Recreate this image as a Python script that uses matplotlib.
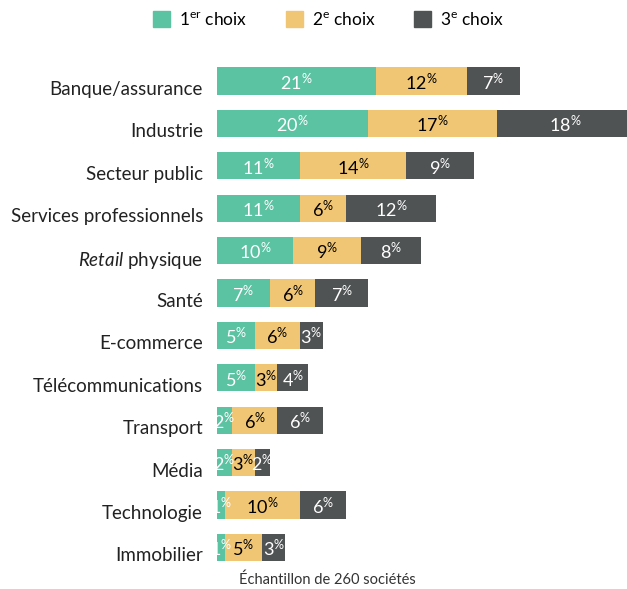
import numpy as np
import matplotlib.pyplot as plt
from matplotlib.patches import Patch
from matplotlib.transforms import ScaledTranslation

plt.rcParams['font.family'] = ['Lato', 'DejaVu Sans']
plt.rcParams['mathtext.fontset'] = 'custom'
plt.rcParams['mathtext.rm'] = 'Lato'
plt.rcParams['mathtext.it'] = 'Lato:italic'
plt.rcParams['mathtext.bf'] = 'Lato:bold'

# données
secteurs = ["Banque/assurance", "Industrie", "Secteur public", "Services professionnels",
            "$\\mathit{Retail}$ physique", "Santé", "E-commerce", "Télécommunications",
            "Transport", "Média", "Technologie", "Immobilier"]
choix1 = [21, 20, 11, 11, 10, 7, 5, 5, 2, 2, 1, 1]
choix2 = [12, 17, 14, 6, 9, 6, 6, 3, 6, 3, 10, 5]
choix3 = [7, 18, 9, 12, 8, 7, 3, 4, 6, 2, 6, 3]
series = ["1$^{\\mathrm{er}}$ choix", "2$^{\\mathrm{e}}$ choix", "3$^{\\mathrm{e}}$ choix"]

couleurs = ["#5bc2a2", "#f0c674", "#505354"]
couleurs_txt = ["white", "black", "white"]

fig = plt.figure(figsize=(6.27, 5.89), dpi=100)
ax = fig.add_axes([0.346, 0.0345, 0.654, 0.864])

y = np.arange(len(secteurs))
gauche = np.zeros(len(secteurs))
for vals, c, tc in zip([choix1, choix2, choix3], couleurs, couleurs_txt):
    vals = np.array(vals)
    ax.barh(y, vals, left=gauche, height=0.64, color=c, linewidth=0)
    for yi, l, v in zip(y, gauche, vals):
        ax.text(l + v / 2, yi + 0.03, "%d$^{\\%%}$" % v, ha='center', va='center',
                color=tc, fontsize=13)
    gauche = gauche + vals

ax.set_xlim(0, 54.2)
ax.set_ylim(len(secteurs) - 0.5, -0.5)
ax.set_yticks(y)
ax.set_yticklabels(secteurs, fontsize=13.5, color='#222222')
ax.tick_params(axis='y', length=0, pad=10)
decal = ScaledTranslation(0, -5 / 72, fig.dpi_scale_trans)
for lbl in ax.get_yticklabels():
    lbl.set_transform(lbl.get_transform() + decal)
ax.set_xticks([])
for s in ax.spines.values():
    s.set_visible(False)

handles = [Patch(color=c) for c in couleurs]
fig.legend(handles, series, loc='upper center', bbox_to_anchor=(0.524, 1.008), ncol=3,
           frameon=False, fontsize=12.5, handlelength=1.0, handleheight=1.0,
           handletextpad=0.5, columnspacing=2.2)

fig.text(0.522, 0.003, "Échantillon de 260 sociétés", ha='center', va='bottom',
         fontsize=10.5, color='#333333')

fig.savefig("out.png", dpi=100)
